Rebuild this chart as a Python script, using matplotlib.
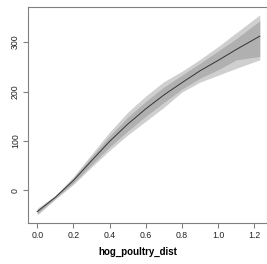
import matplotlib
matplotlib.use("Agg")
import matplotlib.pyplot as plt
import numpy as np

x = [0.0, 0.1, 0.2, 0.3, 0.4, 0.5, 0.6, 0.7, 0.8, 0.9, 1.0, 1.1, 1.23]
fit = [-43, -14, 20, 60, 99, 134, 165, 193, 218, 242, 263, 285, 312]
outer_hi = [-36, -10, 28, 73, 118, 158, 191, 220, 241, 265, 291, 319, 355]
outer_lo = [-50, -18, 12, 47, 81, 112, 140, 168, 199, 219, 233, 247, 264]
inner_hi = [-39, -12, 25, 68, 110, 148, 180, 209, 233, 257, 282, 307, 343]
inner_lo = [-47, -16, 15, 52, 88, 120, 150, 178, 205, 227, 244, 264, 271]
xticks = [0.0, 0.2, 0.4, 0.6, 0.8, 1.0, 1.2]
yticks = [0, 100, 200, 300]
xlabel = "hog_poultry_dist"

plt.rcParams['font.family'] = ['Liberation Sans', 'DejaVu Sans']
fig = plt.figure(figsize=(2.67, 2.64), dpi=100)
ax = fig.add_axes([28/267, 1-223/264, 1-28/267, (223-7)/264])

ax.fill_between(x, outer_lo, outer_hi, color='#cfcfcf', lw=0)
ax.fill_between(x, inner_lo, inner_hi, color='#b0b0b0', lw=0)
ax.plot(x, fit, color='#333333', lw=0.7)

ax.set_xlim(-0.051, 1.27)
ax.set_ylim(-66, 371)
ax.set_xticks(xticks)
ax.set_xticklabels([f"{v:.1f}" for v in xticks])
ax.set_yticks(yticks)
ax.set_yticklabels([str(v) for v in yticks], rotation=90, va='center')
for s in ax.spines.values():
    s.set_color('#808080')
    s.set_linewidth(0.8)
ax.tick_params(colors='#808080', labelcolor='#222222', length=3.3, width=0.8,
               labelsize=6.3, pad=2.5)
ax.set_xlabel(xlabel, fontsize=7, fontweight='bold')
ax.xaxis.set_label_coords((138-28)/239, -(252-223)/216)
ax.xaxis.label.set_va('center')
fig.savefig("out.png", dpi=100)
